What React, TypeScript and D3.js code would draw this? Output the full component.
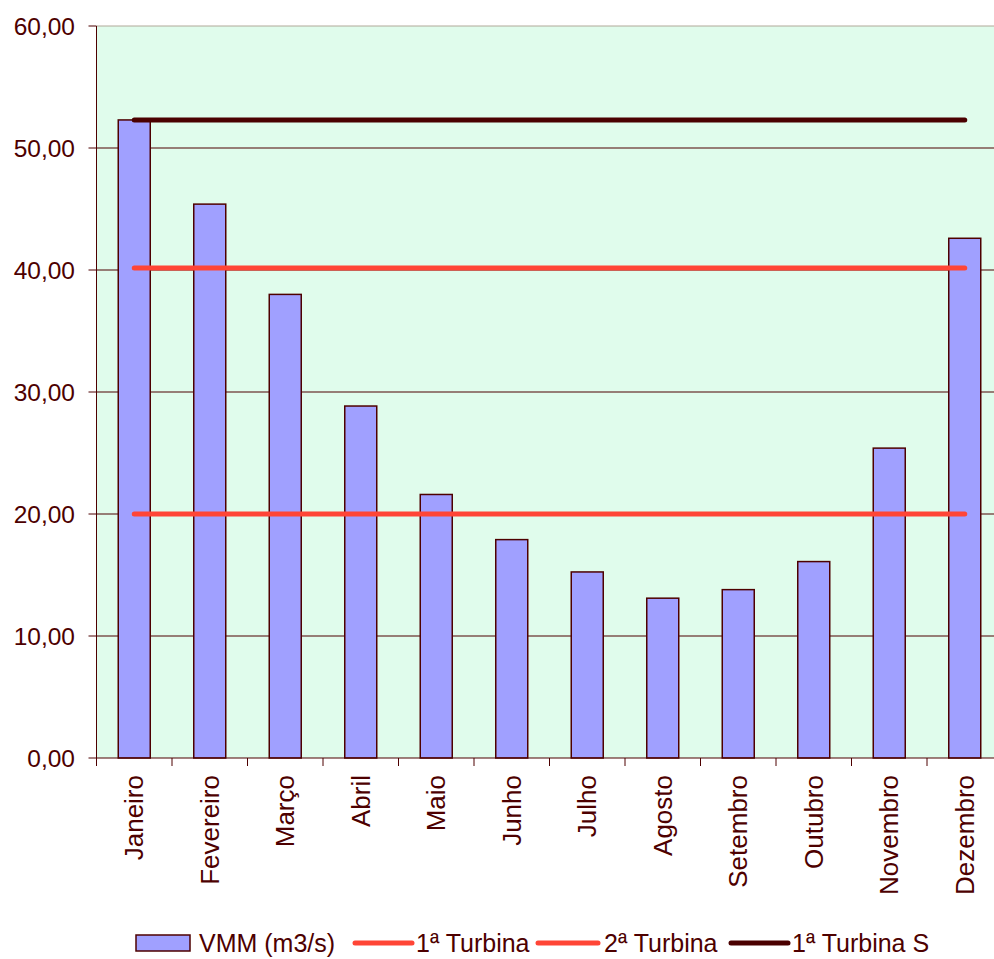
import React from "react";
import * as d3 from "d3";

const months = ["Janeiro","Fevereiro","Março","Abril","Maio","Junho","Julho","Agosto","Setembro","Outubro","Novembro","Dezembro"];
const vmm = [52.3, 45.4, 38.0, 28.85, 21.6, 17.9, 15.25, 13.1, 13.8, 16.1, 25.4, 42.6];
const turbina1 = 20.0;
const turbina2 = 40.16;
const turbina1S = 52.3;
const yTicks = [0, 10, 20, 30, 40, 50, 60];

const W = 994, H = 959;
const left = 96.5, right = 1002.5, top = 26, bottom = 758;
const ink = "#4d0000";
const font = "'Liberation Sans', Arial, sans-serif";

export default function App() {
  const x = d3.scaleBand<string>().domain(months).range([left, right]).paddingInner(0).paddingOuter(0);
  const y = d3.scaleLinear().domain([0, 60]).range([bottom, top]);
  const bw = 32;
  const cx = (m: string) => (x(m) as number) + x.bandwidth() / 2;
  const fmt = (v: number) => v.toFixed(2).replace(".", ",");
  const lines = [
    { v: turbina1, c: "#ff4536" },
    { v: turbina2, c: "#ff4536" },
    { v: turbina1S, c: "#4a0000" },
  ];
  const x0 = cx(months[0]), x1 = cx(months[months.length - 1]);
  return (
    <svg width={W} height={H} style={{ position: "absolute", left: 0, top: 0, display: "block" }} fontFamily={font}>
      <rect x={0} y={0} width={W} height={H} fill="#fff" />
      <rect x={left} y={top} width={right - left} height={bottom - top} fill="#e0fcec" />
      {yTicks.map((t) => (
        <g key={t}>
          {t > 0 && t < 60 && <line x1={left} x2={right} y1={y(t)} y2={y(t)} stroke={ink} strokeWidth={1} />}
          <line x1={left - 8} x2={left} y1={y(t)} y2={y(t)} stroke={ink} strokeWidth={1} />
          <text x={75} y={y(t)} dy="0.36em" textAnchor="end" fontSize={24.5} fill={ink}>{fmt(t)}</text>
        </g>
      ))}
      <line x1={left} x2={right} y1={top} y2={top} stroke="#b0a898" strokeWidth={1} />
      {months.map((m, i) => (
        <rect key={m} x={cx(m) - bw / 2} y={y(vmm[i])} width={bw} height={bottom - y(vmm[i])}
          fill="#a0a0ff" stroke={ink} strokeWidth={1.5} />
      ))}
      {lines.map((l, i) => (
        <line key={i} x1={x0} x2={x1} y1={y(l.v)} y2={y(l.v)} stroke={l.c} strokeWidth={5} strokeLinecap="round" />
      ))}
      <line x1={left} x2={left} y1={top} y2={bottom} stroke={ink} strokeWidth={1} />
      <line x1={left} x2={right} y1={bottom} y2={bottom} stroke={ink} strokeWidth={1} />
      {months.map((m, i) => (
        <line key={"t" + i} x1={x(m) as number} x2={x(m) as number} y1={bottom} y2={bottom + 8} stroke={ink} strokeWidth={1} />
      ))}
      {months.map((m) => (
        <text key={"l" + m} transform={`translate(${cx(m) + 9},${bottom + 17}) rotate(-90)`} textAnchor="end"
          fontSize={26} fill={ink}>{m}</text>
      ))}
      <g fontSize={25} fill={ink}>
        <rect x={136} y={935} width={54} height={16} fill="#a0a0ff" stroke={ink} strokeWidth={1.5} />
        <text x={199} y={943} dy="0.36em">VMM (m3/s)</text>
        <line x1={355} x2={412} y1={943} y2={943} stroke="#ff4536" strokeWidth={5} strokeLinecap="round" />
        <text x={416} y={943} dy="0.36em">1ª Turbina</text>
        <line x1={538} x2={598} y1={943} y2={943} stroke="#ff4536" strokeWidth={5} strokeLinecap="round" />
        <text x={604} y={943} dy="0.36em">2ª Turbina</text>
        <line x1={731} x2={788} y1={943} y2={943} stroke="#4a0000" strokeWidth={5} strokeLinecap="round" />
        <text x={792} y={943} dy="0.36em">1ª Turbina S</text>
      </g>
    </svg>
  );
}
